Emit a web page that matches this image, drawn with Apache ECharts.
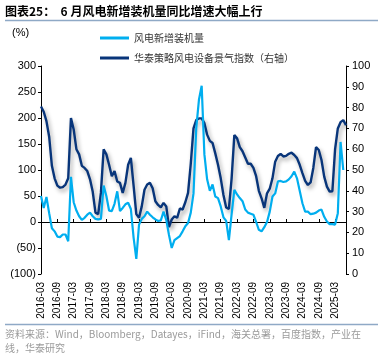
<!DOCTYPE html>
<html>
<head>
<meta charset="utf-8">
<script src="https://cdn.jsdelivr.net/npm/echarts@6/dist/echarts.min.js"></script>
<style>html,body{margin:0;padding:0;background:#fff;}#c{width:385px;height:358px;}</style>
</head>
<body>
<div id="c"></div>
<script>
var categories = [
'2016-03','2016-04','2016-05','2016-06','2016-07','2016-08','2016-09','2016-10','2016-11','2016-12',
'2017-01','2017-02','2017-03','2017-04','2017-05','2017-06','2017-07','2017-08','2017-09','2017-10','2017-11','2017-12',
'2018-01','2018-02','2018-03','2018-04','2018-05','2018-06','2018-07','2018-08','2018-09','2018-10','2018-11','2018-12',
'2019-01','2019-02','2019-03','2019-04','2019-05','2019-06','2019-07','2019-08','2019-09','2019-10','2019-11','2019-12',
'2020-01','2020-02','2020-03','2020-04','2020-05','2020-06','2020-07','2020-08','2020-09','2020-10','2020-11','2020-12',
'2021-01','2021-02','2021-03','2021-04','2021-05','2021-06','2021-07','2021-08','2021-09','2021-10','2021-11','2021-12',
'2022-01','2022-02','2022-03','2022-04','2022-05','2022-06','2022-07','2022-08','2022-09','2022-10','2022-11','2022-12',
'2023-01','2023-02','2023-03','2023-04','2023-05','2023-06','2023-07','2023-08','2023-09','2023-10','2023-11','2023-12',
'2024-01','2024-02','2024-03','2024-04','2024-05','2024-06','2024-07','2024-08','2024-09','2024-10','2024-11','2024-12',
'2025-01','2025-02','2025-03','2025-04','2025-05','2025-06','2025-07'];

// 风电新增装机量 同比 (%), left axis
var installYoY = [
50,27,48,17,-12,-18,-28,-29,-24,-24,
-37,87,38,22,11,4,8,14,18,11,6,5,
6,70,50,22,21,35,59,21,27,34,37,25,
-30,-71,-5,6,11,20,14,9,5,2,3,20,
4,-25,-50,-35,-31,-27,-18,-8,-2,18,55,180,
235,262,130,82,60,72,49,46,30,9,2,-35,
15,62,53,46,40,24,18,16,14,0,-15,-18,
-10,0,20,49,55,78,79,77,78,82,88,97,
84,60,36,20,20,15,16,18,22,24,10,1,
-4,-4,-5,17,154,100,null];

// 华泰策略风电设备景气指数, right axis
var sentimentIdx = [
80.5,78,73.5,66,52,46,42.5,41.5,41.8,43,
46,75,69.5,60,57.5,52,51,49.5,45.5,39.5,29.5,28.8,
39,60,57.5,52.5,47,49.5,44.5,43.8,39,43.8,52.5,55.8,
42.5,28.8,27,32.5,40.5,43,43.8,41.2,35,33.2,32,34.2,
32.5,22.5,26.2,27.8,27,31.5,31,34.5,39,53,70,74,
74.8,74.8,72.5,67,64,63,58,52.5,46,38,32,31.3,
46,66.8,65.2,61,59,56,53,53,51,47,40,36.4,
31.8,38.8,41,46,54,56.7,57.7,56.5,56.8,57.8,58.3,57.2,
55.7,52.5,48.5,44.8,42.8,44,51,61,59.6,54.8,46.8,42,
39.6,39.8,60,70,73,74,71.5];

var leftTicks = {min: -100, max: 300, interval: 50};
var rightTicks = {min: 0, max: 100, interval: 10};
var seriesNames = ['风电新增装机量', '华泰策略风电设备景气指数（右轴）'];

var chart = echarts.init(document.getElementById('c'), null, {renderer: 'canvas'});
var LIGHT = '#00AEEF', DARK = '#08357A';
var axisFont = 'Liberation Sans, Arial, sans-serif';
var cjkFont = '"Noto Sans CJK SC", sans-serif';

chart.setOption({
  animation: false,
  backgroundColor: '#fff',
  grid: {left: 41, right: 39, top: 66, bottom: 84, containLabel: false},
  legend: {
    orient: 'vertical', left: 95, top: 27, itemWidth: 29, itemHeight: 3, itemGap: 8,
    icon: 'rect',
    textStyle: {fontSize: 10, color: '#333', fontFamily: cjkFont, lineHeight: 12},
    data: seriesNames
  },
  xAxis: [{
    type: 'category', data: categories, boundaryGap: false, position: 'bottom',
    axisLine: {show: false, onZero: false},
    axisTick: {show: false},
    axisLabel: {interval: 5, rotate: 90, fontSize: 10, color: '#000', fontFamily: axisFont, margin: 8},
    splitLine: {show: false}
  }, {
    type: 'category', data: categories, boundaryGap: false, position: 'top',
    axisLine: {show: true, onZero: true, onZeroAxisIndex: 0, lineStyle: {color: '#000', width: 1}},
    axisTick: {show: true, interval: 5, length: 3, inside: false, lineStyle: {color: '#000'}},
    axisLabel: {show: false},
    splitLine: {show: false}
  }],
  yAxis: [{
    type: 'value', min: leftTicks.min, max: leftTicks.max, interval: leftTicks.interval, position: 'left',
    axisLine: {show: true, lineStyle: {color: '#000'}},
    axisTick: {show: true, length: 3, lineStyle: {color: '#000'}},
    axisLabel: {fontSize: 11, color: '#000', fontFamily: axisFont, margin: 5,
      formatter: function (v) { return v < 0 ? '(' + (-v) + ')' : String(v); }},
    splitLine: {show: false}
  }, {
    type: 'value', min: rightTicks.min, max: rightTicks.max, interval: rightTicks.interval, position: 'right',
    axisLine: {show: true, lineStyle: {color: '#000'}},
    axisTick: {show: true, length: 3, lineStyle: {color: '#000'}},
    axisLabel: {fontSize: 11, color: '#000', fontFamily: axisFont, margin: 6},
    splitLine: {show: false}
  }],
  series: [{
    name: seriesNames[0], type: 'line', data: installYoY, xAxisIndex: 0, yAxisIndex: 0,
    showSymbol: false, symbol: 'none', z: 3,
    itemStyle: {color: LIGHT},
    lineStyle: {color: LIGHT, width: 2.2}
  }, {
    name: seriesNames[1], type: 'line', data: sentimentIdx, xAxisIndex: 0, yAxisIndex: 1,
    showSymbol: false, symbol: 'none', z: 2,
    itemStyle: {color: DARK},
    lineStyle: {color: DARK, width: 2.4, shadowColor: 'rgba(0,0,0,0.35)', shadowBlur: 4, shadowOffsetX: 2, shadowOffsetY: 3}
  }],
  graphic: [
    {type: 'text', left: 5, top: 5, style: {text: '图表25：  6 月风电新增装机量同比增速大幅上行', font: 'bold 12px "Noto Sans CJK SC", sans-serif', fill: '#000'}},
    {type: 'line', shape: {x1: 5, y1: 20.5, x2: 378, y2: 20.5}, style: {stroke: '#8FA9C6', lineWidth: 1.5}},
    {type: 'text', left: 12, top: 27, style: {text: '(%)', font: '11px Liberation Sans, Arial, sans-serif', fill: '#000'}},
    {type: 'line', shape: {x1: 5, y1: 324.5, x2: 378, y2: 324.5}, style: {stroke: '#8FA9C6', lineWidth: 1.5}},
    {type: 'text', left: 5, top: 329, style: {text: '资料来源：Wind，Bloomberg，Datayes，iFind，海关总署，百度指数，产业在', font: '10px "Noto Sans CJK SC", sans-serif', fill: '#9A9A9A'}},
    {type: 'text', left: 5, top: 343, style: {text: '线，华泰研究', font: '10px "Noto Sans CJK SC", sans-serif', fill: '#9A9A9A'}}
  ]
});
</script>
</body>
</html>
